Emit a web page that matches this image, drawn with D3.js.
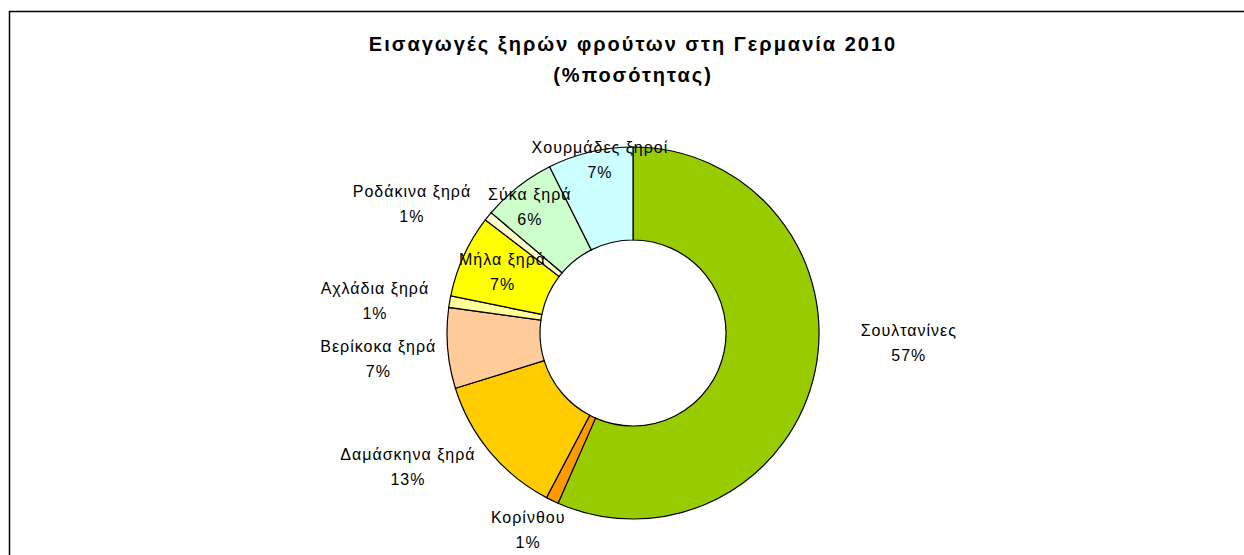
<!doctype html>
<html lang="el">
<head>
<meta charset="utf-8">
<title>Εισαγωγές ξηρών φρούτων στη Γερμανία 2010</title>
<style>
  body { margin: 0; background: #fff; }
  text { font-family: "Liberation Sans", Arial, sans-serif; fill: #000; }
</style>
</head>
<body>
<script src="https://d3js.org/d3.v7.min.js"></script>
<script>
// categories, clockwise from 12 o'clock
var categories = ["Σουλτανίνες", "Κορίνθου", "Δαμάσκηνα ξηρά", "Βερίκοκα ξηρά", "Αχλάδια ξηρά",
                  "Μήλα ξηρά", "Ροδάκινα ξηρά", "Σύκα ξηρά", "Χουρμάδες ξηροί"];
// share of quantity (%)
var shares = [56.6, 1.1, 12.5, 7.0, 1.0, 7.2, 0.8, 6.4, 7.4];
var colors = ["#99cc00", "#ff9900", "#ffcc00", "#ffcc99", "#ffff99",
              "#ffff00", "#ffffcc", "#ccffcc", "#ccffff"];
var titleLines = ["Εισαγωγές ξηρών φρούτων στη Γερμανία 2010", "(%ποσότητας)"];

// label placement (Excel "best fit"): radius from centre and angle nudge in degrees
var labelRadius = [276, 223, 262, 256, 260, 144, 256, 163, 176];
var labelNudge = [-9.7, 2.3, 9, -1.1, -2.7, 0.6, -8.6, -1.1, 2.5];

var w = 1244, h = 555;
var cx = 633, cy = 333;
var outerR = 186, innerR = 93;

var svg = d3.select("body").append("svg")
  .attr("width", w)
  .attr("height", h);

// chart frame
svg.append("rect")
  .attr("x", 9.5).attr("y", 11.5)
  .attr("width", 1300).attr("height", 700)
  .attr("fill", "#fff")
  .attr("stroke", "#000")
  .attr("stroke-width", 1.5);

// title
svg.append("text")
  .attr("x", 633).attr("y", 51)
  .attr("text-anchor", "middle")
  .style("font-size", "20px")
  .style("font-weight", "bold")
  .style("letter-spacing", "2px")
  .selectAll("tspan")
  .data(titleLines)
  .enter()
  .append("tspan")
  .attr("x", 633)
  .attr("dy", function(d, i) { return i == 0 ? 0 : 31; })
  .text(function(d) { return d; });

var pie = d3.pie().sort(null).value(function(d) { return d; });
var arcs = pie(shares);

var arc = d3.arc().innerRadius(innerR).outerRadius(outerR);

var g = svg.append("g").attr("transform", "translate(" + cx + "," + cy + ")");

g.selectAll("path")
  .data(arcs)
  .enter()
  .append("path")
  .attr("d", arc)
  .attr("fill", function(d, i) { return colors[i]; })
  .attr("stroke", "#000")
  .attr("stroke-width", 1.2);

// data labels
var labels = g.selectAll("text.lbl")
  .data(arcs)
  .enter()
  .append("text")
  .attr("class", "lbl")
  .attr("text-anchor", "middle")
  .style("font-size", "16px")
  .style("letter-spacing", "1px")
  .attr("transform", function(d, i) {
    var a = (d.startAngle + d.endAngle) / 2 + labelNudge[i] * Math.PI / 180;
    var p = d3.pointRadial(a, labelRadius[i]);
    return "translate(" + p[0] + "," + p[1] + ")";
  });

labels.append("tspan")
  .attr("x", 0)
  .attr("y", -7)
  .text(function(d, i) { return categories[i]; });

labels.append("tspan")
  .attr("x", 0)
  .attr("y", 18)
  .text(function(d) { return Math.round(d.data) + "%"; });
</script>
</body>
</html>
